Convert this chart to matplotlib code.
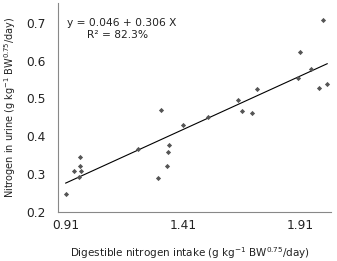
import matplotlib
matplotlib.use("Agg")
import matplotlib.pyplot as plt
import numpy as np

intake = [0.909, 0.945, 0.971, 0.971, 0.974, 0.967, 1.216, 1.302, 1.343, 1.345, 1.350,
          1.315, 1.410, 1.517, 1.644, 1.662, 1.704, 1.726, 1.907, 1.900, 1.957, 1.991,
          2.024, 2.008]
urine = [0.247, 0.307, 0.345, 0.321, 0.307, 0.292, 0.366, 0.291, 0.322, 0.359, 0.378,
         0.469, 0.429, 0.450, 0.496, 0.468, 0.461, 0.524, 0.623, 0.555, 0.577, 0.528,
         0.539, 0.707]
fit_intercept = 0.019
fit_slope = 0.283
xticks = [0.91, 1.41, 1.91]
yticks = [0.2, 0.3, 0.4, 0.5, 0.6, 0.7]

fig = plt.figure(figsize=(3.37, 2.61), dpi=100)
ax = fig.add_axes([0.172, 0.188, 0.81, 0.80])

ax.scatter(intake, urine, marker='D', s=7, color='#555555', zorder=3, linewidths=0)
xl = np.array([min(intake), max(intake)])
ax.plot(xl, fit_intercept + fit_slope * xl, color='black', lw=0.8)

ax.set_xlim(0.876, 2.04)
ax.set_ylim(0.2, 0.752)
ax.set_xticks(xticks)
ax.set_xticklabels([f"{v:.2f}" for v in xticks])
ax.set_yticks(yticks)
ax.set_yticklabels([f"{v:.1f}" for v in yticks])
ax.tick_params(length=0, labelsize=8.8, colors='#222222')
ax.tick_params(axis='y', pad=9)
ax.tick_params(axis='x', pad=5)
for s in ['top', 'right']:
    ax.spines[s].set_visible(False)
for s in ['left', 'bottom']:
    ax.spines[s].set_color('#888888')
    ax.spines[s].set_linewidth(0.8)

ax.text(0.033, 0.904, "y = 0.046 + 0.306 X", transform=ax.transAxes, fontsize=7.7,
        ha='left', va='center', color='#222222')
ax.text(0.219, 0.847, "R² = 82.3%", transform=ax.transAxes, fontsize=7.7,
        ha='center', va='center', color='#222222')

fig.text(0.565, 0.03, "Digestible nitrogen intake (g kg$^{-1}$ BW$^{0.75}$/day)",
         ha='center', va='center', fontsize=7.5, color='#222222')
fig.text(0.03, 0.59, "Nitrogen in urine (g kg$^{-1}$ BW$^{0.75}$/day)", rotation=90,
         ha='center', va='center', fontsize=7.0, color='#222222')

fig.savefig("out.png", dpi=100)
